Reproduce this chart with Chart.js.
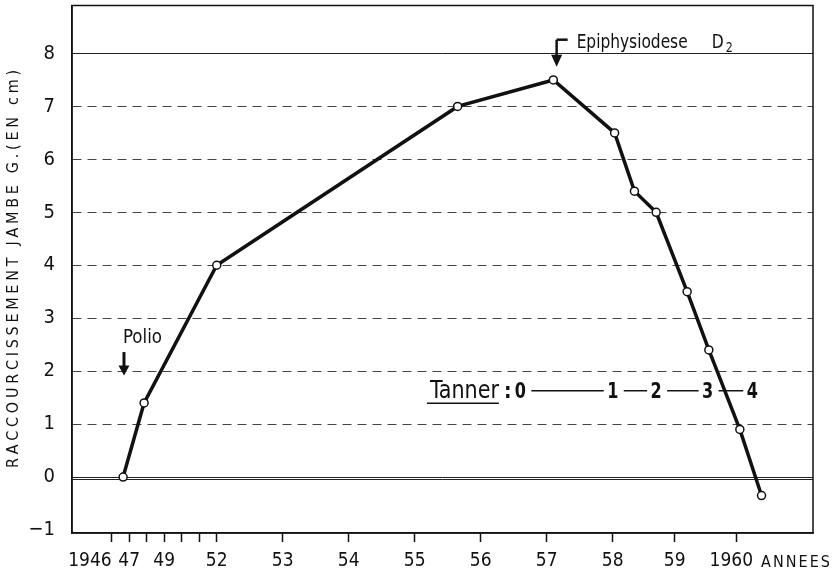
<!DOCTYPE html>
<html>
<head>
<meta charset="utf-8">
<script src="https://cdn.jsdelivr.net/npm/chart.js@4"></script>
<style>
  html, body { margin: 0; padding: 0; background: #fff; }
</style>
</head>
<body>
<canvas id="legChart" width="838" height="575"></canvas>
<script>
// shortening of the left leg (cm) per year
const years = [1946.65, 1947.85, 1952.0, 1955.65, 1957.1, 1958.03, 1958.35, 1958.7, 1959.2, 1959.55, 1960.05, 1960.4];
const shortening = [0, 1.4, 4.0, 7.0, 7.5, 6.5, 5.4, 5.0, 3.5, 2.4, 0.9, -0.35];

const xTickYears = [1946, 1947, 1948, 1949, 1950, 1951, 1952, 1953, 1954, 1955, 1956, 1957, 1958, 1959, 1960];
const xTickLabels = ["1946", "47", "", "49", "", "", "52", "53", "54", "55", "56", "57", "58", "59", "1960"];
const yTickValues = [-1, 0, 1, 2, 3, 4, 5, 6, 7, 8];

const tannerStages = ["0", "1", "2", "3", "4"];
const tannerYears = [1956.6, 1958.0, 1958.7, 1959.53, 1960.25];

const polioYear = 1946.7;
const epiphysiodeseYear = 1957.15;

const FONT = '"Liberation Sans Narrow", "DejaVu Sans Condensed", "Liberation Sans", sans-serif';
const INK = "#111";

// the time axis is squeezed before 1952 (piecewise linear)
const axisBreakYears = [1946, 1952, 1958, 1960];
const axisBreakUnits = [0, 105, 501, 625];

const warp = (year) => {
    let i = 0;
    while (i < axisBreakYears.length - 2 && year > axisBreakYears[i + 1]) i++;
    const y0 = axisBreakYears[i], y1 = axisBreakYears[i + 1];
    const u0 = axisBreakUnits[i], u1 = axisBreakUnits[i + 1];
    return u0 + (year - y0) * (u1 - u0) / (y1 - y0);
};

class BrokenYearScale extends Chart.LinearScale {
    buildTicks() {
        return xTickYears.map(v => ({value: v}));
    }
    getPixelForValue(value) {
        if (value === null || value === undefined) return NaN;
        const a = warp(this.min), b = warp(this.max);
        return this.getPixelForDecimal((warp(value) - a) / (b - a));
    }
    getValueForPixel(pixel) {
        const a = warp(this.min), b = warp(this.max);
        const u = a + this.getDecimalForPixel(pixel) * (b - a);
        let i = 0;
        while (i < axisBreakUnits.length - 2 && u > axisBreakUnits[i + 1]) i++;
        const u0 = axisBreakUnits[i], u1 = axisBreakUnits[i + 1];
        return axisBreakYears[i] + (u - u0) * (axisBreakYears[i + 1] - axisBreakYears[i]) / (u1 - u0);
    }
}
BrokenYearScale.id = "brokenYear";
BrokenYearScale.defaults = Chart.LinearScale.defaults;
Chart.register(BrokenYearScale);

// text with letters spread to a given length
const drawSpaced = (ctx, text, xStart, y, target) => {
    const widths = [...text].map(ch => ctx.measureText(ch).width);
    const sum = widths.reduce((s, w) => s + w, 0);
    const gap = (target - sum) / (text.length - 1);
    let x = xStart;
    [...text].forEach((ch, i) => {
        ctx.fillText(ch, x, y);
        x += widths[i] + gap;
    });
};

// text squeezed/stretched horizontally to a given width (the original lettering is condensed)
const drawFit = (ctx, text, x, y, target) => {
    const w = ctx.measureText(text).width;
    ctx.save();
    ctx.translate(x, y);
    ctx.scale(target / w, 1);
    ctx.fillText(text, 0, 0);
    ctx.restore();
};

const arrowDown = (ctx, x, yTop, yTip, head, half) => {
    ctx.beginPath();
    ctx.moveTo(x, yTop);
    ctx.lineTo(x, yTip - head + 1);
    ctx.stroke();
    ctx.beginPath();
    ctx.moveTo(x - half, yTip - head);
    ctx.lineTo(x + half, yTip - head);
    ctx.lineTo(x, yTip);
    ctx.closePath();
    ctx.fill();
};

const decorations = {
    id: "decorations",
    afterDraw(chart) {
        const {ctx, chartArea: area, scales: {x, y}} = chart;
        ctx.save();
        ctx.fillStyle = INK;
        ctx.strokeStyle = INK;
        ctx.textAlign = "left";

        // frame
        ctx.lineWidth = 1.5;
        ctx.strokeRect(area.left, area.top, area.right - area.left, area.bottom - area.top);

        // y title, rotated and letter-spaced
        ctx.save();
        ctx.translate(14, 269);
        ctx.rotate(-Math.PI / 2);
        ctx.font = "16px " + FONT;
        ctx.textBaseline = "middle";
        drawSpaced(ctx, "RACCOURCISSEMENT JAMBE G.(EN cm)", -199, 0, 398);
        ctx.restore();

        // x unit
        ctx.font = "16px " + FONT;
        ctx.textBaseline = "middle";
        drawSpaced(ctx, "ANNEES", area.right - 52, area.bottom + 30, 69);

        // Polio
        const px = x.getPixelForValue(polioYear);
        ctx.font = "20px " + FONT;
        ctx.textBaseline = "alphabetic";
        drawFit(ctx, "Polio", px - 1, y.getPixelForValue(2.53), 39);
        ctx.lineWidth = 3;
        arrowDown(ctx, px, y.getPixelForValue(2.36), y.getPixelForValue(1.92), 10, 5.5);

        // Epiphysiodese D2
        const ex = x.getPixelForValue(epiphysiodeseYear);
        const eTop = y.getPixelForValue(8.26);
        ctx.lineWidth = 2.5;
        ctx.beginPath();
        ctx.moveTo(ex + 11, eTop);
        ctx.lineTo(ex, eTop);
        ctx.stroke();
        arrowDown(ctx, ex, eTop, y.getPixelForValue(7.75), 12, 5.5);
        const eBase = y.getPixelForValue(8.11);
        ctx.font = "20px " + FONT;
        const tx = ex + 20;
        drawFit(ctx, "Epiphysiodese", tx, eBase, 111);
        const dx = tx + 135;
        drawFit(ctx, "D", dx, eBase, 12);
        ctx.font = "14px " + FONT;
        drawFit(ctx, "2", dx + 14, eBase + 4, 7);

        // Tanner stages
        const tBase = y.getPixelForValue(1.49);
        ctx.font = "24px " + FONT;
        const tStart = x.getPixelForValue(1955.23);
        drawFit(ctx, "Tanner", tStart, tBase, 69);
        ctx.lineWidth = 1.5;
        ctx.beginPath();
        ctx.moveTo(tStart - 3, tBase + 5);
        ctx.lineTo(tStart + 69, tBase + 5);
        ctx.stroke();
        ctx.font = "bold 21px " + FONT;
        ctx.fillText(":", tStart + 74, tBase);
        ctx.textAlign = "center";
        const mid = y.getPixelForValue(1.63);
        tannerStages.forEach((s, i) => {
            const cx = x.getPixelForValue(tannerYears[i]);
            ctx.save();
            ctx.translate(cx, tBase);
            ctx.scale(0.85, 1);
            ctx.fillText(s, 0, 0);
            ctx.restore();
            if (i > 0) {
                const prev = x.getPixelForValue(tannerYears[i - 1]);
                ctx.beginPath();
                ctx.moveTo(prev + 11, mid);
                ctx.lineTo(cx - 9, mid);
                ctx.stroke();
            }
        });
        ctx.restore();
    }
};

const dashFor = (c) => {
    const v = c.tick ? c.tick.value : null;
    return (v === null || v === 8 || v <= 0) ? [] : [9, 6];
};

const ctx = document.getElementById("legChart").getContext("2d");
const legChart = new Chart(ctx, {
    type: "line",
    data: {
        datasets: [{
            data: years.map((yr, i) => ({x: yr, y: shortening[i]})),
            borderColor: INK,
            borderWidth: 3.5,
            tension: 0,
            pointRadius: 4,
            pointBorderWidth: 1.5,
            pointBackgroundColor: "#fff",
            pointBorderColor: INK
        }]
    },
    options: {
        responsive: false,
        animation: false,
        devicePixelRatio: 1,
        layout: {
            padding: {top: 5, right: 25, left: 0, bottom: 0}
        },
        scales: {
            x: {
                type: "brokenYear",
                min: 1943.73,
                max: 1961.23,
                afterFit: (scale) => {
                    scale.height = 42;
                    scale.paddingLeft = 0;
                    scale.paddingRight = 0;
                },
                grid: {
                    drawOnChartArea: false,
                    tickLength: 9,
                    tickColor: INK,
                    tickWidth: 1.5
                },
                border: {color: INK, width: 1.5},
                ticks: {
                    autoSkip: false,
                    maxRotation: 0,
                    minRotation: 0,
                    padding: 8,
                    color: INK,
                    font: {family: FONT, size: 19},
                    callback: (value, index) => {
                        if (index === 0) return xTickLabels[index] + "\u2007\u2007\u2007\u2007";
                        if (index === xTickLabels.length - 1) return xTickLabels[index] + "\u2007";
                        return xTickLabels[index];
                    }
                }
            },
            y: {
                min: -1.057,
                max: 8.906,
                afterFit: (scale) => {
                    scale.width = 72;
                    scale.paddingTop = 0;
                    scale.paddingBottom = 0;
                },
                afterBuildTicks: (scale) => {
                    scale.ticks = [...yTickValues, -0.05].sort((a, b) => a - b).map(v => ({value: v}));
                },
                grid: {
                    drawTicks: false,
                    lineWidth: 1,
                    color: (c) => {
                        const v = c.tick ? c.tick.value : null;
                        if (v === -1) return "rgba(0,0,0,0)";
                        if (v === 8 || v === 0 || v === -0.05) return "#222";
                        return "#444";
                    }
                },
                border: {color: INK, width: 1.5, dash: dashFor},
                ticks: {
                    autoSkip: false,
                    padding: 17,
                    color: INK,
                    font: {family: FONT, size: 20},
                    callback: (value) => yTickValues.includes(value) ? (value < 0 ? "\u2212" + Math.abs(value) : String(value)) : ""
                }
            }
        },
        plugins: {
            legend: {display: false},
            tooltip: {enabled: false}
        }
    },
    plugins: [decorations]
});
</script>
</body>
</html>
